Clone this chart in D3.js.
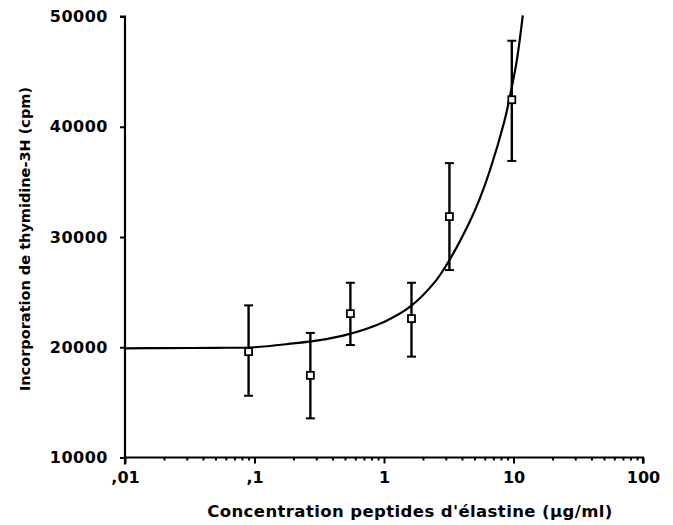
<!DOCTYPE html>
<html>
<head>
<meta charset="utf-8">
<script src="https://cdn.jsdelivr.net/npm/d3@7"></script>
<style>
  body { margin: 0; background: #fff; }
  svg text { font-family: "DejaVu Sans", sans-serif; font-weight: bold; fill: #000; }
</style>
</head>
<body>
<svg id="chart" width="673" height="525"></svg>
<script>
// ---- data ----
const concentrations = [0.09, 0.27, 0.55, 1.63, 3.2, 9.7];          // µg/ml
const meanCpm       = [19600, 17450, 23050, 22600, 31850, 42450];
const errUpper      = [23800, 21300, 25850, 25850, 36700, 47800];
const errLower      = [15600, 13550, 20200, 19150, 27000, 36900];

// fitted curve
const curveX = [0.01, 0.02, 0.05, 0.1, 0.2, 0.3, 0.5, 1, 1.6, 2.5, 3.2, 4.6, 5.5, 6.6, 8.5, 9.4, 10.6, 11.8];
const curveY = [19900, 19920, 19950, 20000, 20350, 20600, 21100, 22300, 23700, 26000, 27900, 31400, 33500, 36100, 40500, 42800, 46000, 50100];

const xTickValues = [0.01, 0.1, 1, 10, 100];
const xTickLabels = [",01", ",1", "1", "10", "100"];
const yTickValues = [10000, 20000, 30000, 40000, 50000];

const xTitle = "Concentration peptides d'élastine (µg/ml)";
const yTitle = "Incorporation de thymidine-3H (cpm)";

// ---- layout ----
const svg = d3.select("#chart");
const x = d3.scaleLog().domain([0.01, 100]).range([125, 643]);
const y = d3.scaleLinear().domain([10000, 50000]).range([457.5, 16.5]);

// minor tick values
const minorTicks = [];
for (let d = 0.01; d < 100; d *= 10) {
  for (let m = 2; m <= 9; m++) minorTicks.push(+(d * m).toPrecision(3));
}

// x axis
const xAxis = svg.append("g").attr("transform", `translate(0,${y(10000)})`);
xAxis.call(d3.axisBottom(x).tickValues(xTickValues).tickFormat((d, i) => xTickLabels[i]).tickSize(6).tickPadding(8));
const xMinor = svg.append("g").attr("transform", `translate(0,${y(10000)})`);
xMinor.call(d3.axisBottom(x).tickValues(minorTicks).tickFormat("").tickSize(3));
xMinor.select(".domain").remove();

// y axis
const yAxis = svg.append("g").attr("transform", `translate(${x(0.01)},0)`);
yAxis.call(d3.axisLeft(y).tickValues(yTickValues).tickFormat(d3.format("d")).tickSize(5).tickPadding(12));

[xAxis, xMinor, yAxis].forEach(g => {
  g.selectAll(".domain").attr("stroke", "#000").attr("stroke-width", 2.2);
  g.selectAll(".tick line").attr("stroke", "#000").attr("stroke-width", 2);
});
xAxis.selectAll(".domain").attr("d", `M${x(0.01)},0H${x(100)}V6`);
yAxis.selectAll(".domain").attr("d", `M-5,${y(50000)}H0V${y(10000) + 7}`);
xAxis.selectAll(".tick text").attr("font-size", 16);
yAxis.selectAll(".tick text").attr("font-size", 16).attr("letter-spacing", 0.5);

// axis titles
svg.append("text")
  .attr("x", 410).attr("y", 517)
  .attr("text-anchor", "middle")
  .attr("font-size", 16.5)
  .attr("letter-spacing", 0.4)
  .text(xTitle);
svg.append("text")
  .attr("transform", `translate(30,239) rotate(-90)`)
  .attr("text-anchor", "middle")
  .attr("font-size", 14.5)
  .text(yTitle);

// fitted curve
const curvePts = curveX.map((c, i) => [c, curveY[i]]);
svg.append("path")
  .datum(curvePts)
  .attr("fill", "none")
  .attr("stroke", "#000")
  .attr("stroke-width", 2.2)
  .attr("d", d3.line().x(d => x(d[0])).y(d => y(d[1])).curve(d3.curveCatmullRom));

// error bars
const pts = concentrations.map((c, i) => ({ c, m: meanCpm[i], hi: errUpper[i], lo: errLower[i] }));
const eb = svg.append("g").selectAll("g").data(pts).join("g");
eb.append("line")
  .attr("x1", d => x(d.c)).attr("x2", d => x(d.c))
  .attr("y1", d => y(d.hi)).attr("y2", d => y(d.lo))
  .attr("stroke", "#000").attr("stroke-width", 2.4);
eb.append("line")
  .attr("x1", d => x(d.c) - 4.5).attr("x2", d => x(d.c) + 4.5)
  .attr("y1", d => y(d.hi)).attr("y2", d => y(d.hi))
  .attr("stroke", "#000").attr("stroke-width", 2);
eb.append("line")
  .attr("x1", d => x(d.c) - 4.5).attr("x2", d => x(d.c) + 4.5)
  .attr("y1", d => y(d.lo)).attr("y2", d => y(d.lo))
  .attr("stroke", "#000").attr("stroke-width", 2);

// markers: open squares
eb.append("rect")
  .attr("x", d => x(d.c) - 3.5).attr("y", d => y(d.m) - 3.5)
  .attr("width", 7).attr("height", 7)
  .attr("fill", "#fff").attr("stroke", "#000").attr("stroke-width", 1.8);
</script>
</body>
</html>
